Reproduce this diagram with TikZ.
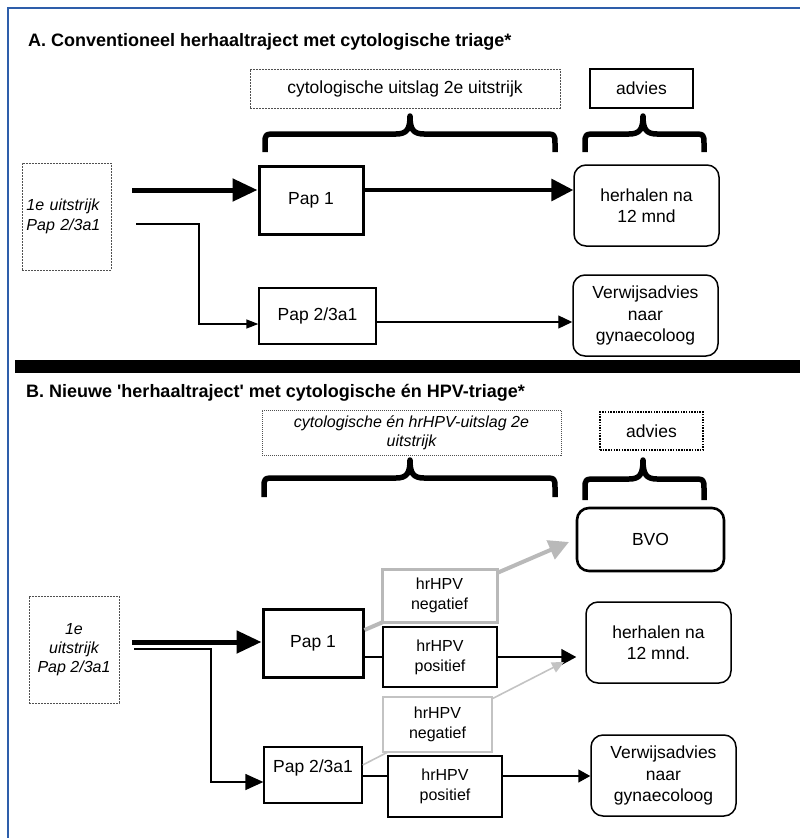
\documentclass[tikz,border=0pt]{standalone}
\usepackage{fontspec}
\setmainfont{Liberation Sans}
\usetikzlibrary{arrows.meta,calc}
\definecolor{framecol}{RGB}{46,94,170}
\definecolor{grayline}{RGB}{185,185,185}
\definecolor{grayline2}{RGB}{195,195,195}
\definecolor{dashcol}{RGB}{80,80,80}
\newcommand{\fsz}[2]{\fontsize{#1}{#2}\selectfont}
\newcommand{\cbrace}[6]{%
\draw[bracestyle] (#1,#6) -- (#1,#5+10) .. controls (#1,#5) .. (#1+12,#5) -- (#2-14,#5) .. controls (#2-3,#5) and (#2,#5-5) .. (#2,#4) .. controls (#2,#5-5) and (#2+3,#5) .. (#2+14,#5) -- (#3-12,#5) .. controls (#3,#5) .. (#3,#5+10) -- (#3,#6);}
\tikzset{
  base/.style={inner sep=0pt, align=center, font=\fsz{17.5}{21.5}},
  plainbox/.style={base, draw, line width=1.3pt},
  thickbox/.style={base, draw, line width=3pt},
  rbox/.style={base, draw, rounded corners=12pt, line width=1.5pt},
  dashbox/.style={base, draw=dashcol, line width=0.8pt, dash pattern=on 2pt off 1pt},
  dotbox/.style={base, draw=dashcol, line width=0.9pt, dash pattern=on 1pt off 1pt},
  hpvbox/.style={base, draw, fill=white, line width=1.5pt, font=\fsz{16}{20}},
  grayboxthick/.style={base, draw=grayline, fill=white, line width=3pt, font=\fsz{16}{20}},
  grayboxthin/.style={base, draw=grayline2, fill=white, line width=1.5pt, font=\fsz{16}{20}},
  titlestyle/.style={anchor=base west, inner sep=0pt, font=\fsz{18}{22}\bfseries},
  bracestyle/.style={line width=5.5pt, line join=round},
  bigarrow/.style={line width=5pt, -{Triangle[length=25pt,width=22pt]}},
  medarrow/.style={line width=3.5pt, -{Triangle[length=22pt,width=22pt]}},
  thinarrow/.style={line width=1.3pt, -{Triangle[length=12pt,width=9pt]}},
  thinarrowb/.style={line width=1.3pt, -{Triangle[length=14pt,width=13pt]}},
}
\begin{document}
\begin{tikzpicture}[x=1pt,y=-1pt]
\useasboundingbox (0,0) rectangle (800,838);
\clip (0,0) rectangle (800,838);
% frame
\draw[framecol, line width=1.2pt] (8,845) -- (8,8) -- (805,8);

% ===== Section A =====
\node[titlestyle] (titleA) at (28,46.5) {A. Conventioneel herhaaltraject met cytologische triage*};
\node[dashbox, minimum width=310pt, minimum height=39pt] (cytoA) at (405,88.5) {cytologische uitslag 2e uitstrijk};
\node[base, draw, line width=2pt, minimum width=103pt, minimum height=39pt] (adviesA) at (641.5,88.5) {advies};
\cbrace{265}{410}{555}{116}{134}{152}
\cbrace{585}{643}{704}{116}{134}{152}
\node[dashbox, minimum width=89pt, minimum height=107pt, text width=80pt, align=left, font=\fsz{16}{20}\itshape] (firstA) at (66.5,216.5) {1e uitstrijk\\Pap 2/3a1};
\node[thickbox, minimum width=104pt, minimum height=68pt] (pap1a) at (311,200) {Pap 1};
\node[rbox, minimum width=145pt, minimum height=81pt] (herhA) at (646.5,205.5) {herhalen na\\12 mnd};
\node[plainbox, minimum width=117pt, minimum height=56pt] (pap2a) at (317.5,316) {Pap 2/3a1};
\node[rbox, minimum width=145pt, minimum height=81pt] (verwA) at (645.5,315.5) {Verwijsadvies\\naar\\gynaecoloog};
\draw[bigarrow, shorten <=21pt] (firstA.east |- 0,190) -- (pap1a.west |- 0,190);
\draw[medarrow] (pap1a.east |- 0,190) -- (herhA.west |- 0,190);
\draw[thinarrow, shorten <=25pt] (firstA.east |- 0,224) -- (199,224) -- (199,324) -- (pap2a.west |- 0,324);
\draw[thinarrowb] (pap2a.east |- 0,322) -- (verwA.west |- 0,322);

% divider
\fill[black] (15,360) rectangle (805,373);

% ===== Section B =====
\node[titlestyle] (titleB) at (26,397) {B. Nieuwe \textquotesingle herhaaltraject\textquotesingle\ met cytologische én HPV-triage*};
\node[dotbox, minimum width=299pt, minimum height=45pt, font=\fsz{16}{19}\itshape] (cytoB) at (411.5,432.5) {cytologische én hrHPV-uitslag 2e\\uitstrijk};
\node[base, draw, line width=2pt, dash pattern=on 1.5pt off 1.2pt, minimum width=103pt, minimum height=38pt] (adviesB) at (651.5,431) {advies};
\cbrace{264}{410}{555}{460}{478}{497}
\cbrace{585}{643}{704}{460}{479}{500}
\node[base, draw, rounded corners=12pt, line width=2.6pt, minimum width=147pt, minimum height=63pt] (bvo) at (650.5,539.5) {BVO};
\node[dashbox, minimum width=90pt, minimum height=107pt] (firstB) at (74,649.5) {};
\node[base, font=\fsz{16}{19}\itshape] (firstBtext) at (74,649.5) {1e\\uitstrijk\\Pap 2/3a1};
\node[thickbox, minimum width=100pt, minimum height=68pt] (pap1b) at (313,643) {Pap 1};
\node[rbox, minimum width=145pt, minimum height=81pt] (herhB) at (658.5,642.5) {herhalen na\\12 mnd.};
\node[plainbox, minimum width=98pt, minimum height=56pt] (pap2b) at (313,775) {};
\node[base] (pap2btext) at (313,768) {Pap 2/3a1};
\node[rbox, minimum width=145pt, minimum height=81pt] (verwB) at (663.5,775.5) {Verwijsadvies\\naar\\gynaecoloog};
\coordinate (btip) at (569,542);
\coordinate (gtip) at (564,662);
% connectors B
\draw[bigarrow, shorten <=13pt] (firstB.east |- 0,642) -- (pap1b.west |- 0,642);
\draw[thinarrow, -{Triangle[length=18pt,width=16pt]}, shorten <=15pt] (firstB.east |- 0,649) -- (211,649) -- (211,782) -- (pap2b.west |- 0,782);
\draw[grayline, line width=4pt, -{Triangle[length=20pt,width=20pt]}] (pap1b.east |- 0,630) -- (btip);
\draw[line width=1.5pt, -{Triangle[length=15pt,width=16pt]}, shorten >=9pt] (pap1b.east |- 0,657) -- (herhB.west |- 0,657);
\draw[grayline2, line width=1.6pt, -{Triangle[length=12pt,width=11pt]}] (pap2b.east |- 0,765) -- (gtip);
\draw[line width=1.5pt, -{Triangle[length=12pt,width=13pt]}] (pap2b.east |- 0,776) -- (verwB.west |- 0,776);
% boxes on lines
\node[grayboxthick, minimum width=115pt, minimum height=53pt] (neg1) at (439.5,595.5) {hrHPV\\negatief};
\node[hpvbox, minimum width=114pt, minimum height=60pt] (pos1) at (440,657) {hrHPV\\positief};
\node[grayboxthin, minimum width=109pt, minimum height=55pt] (neg2) at (437.5,724.5) {hrHPV\\negatief};
\node[hpvbox, minimum width=114pt, minimum height=61pt] (pos2) at (445,786.5) {hrHPV\\positief};
\end{tikzpicture}
\end{document}
